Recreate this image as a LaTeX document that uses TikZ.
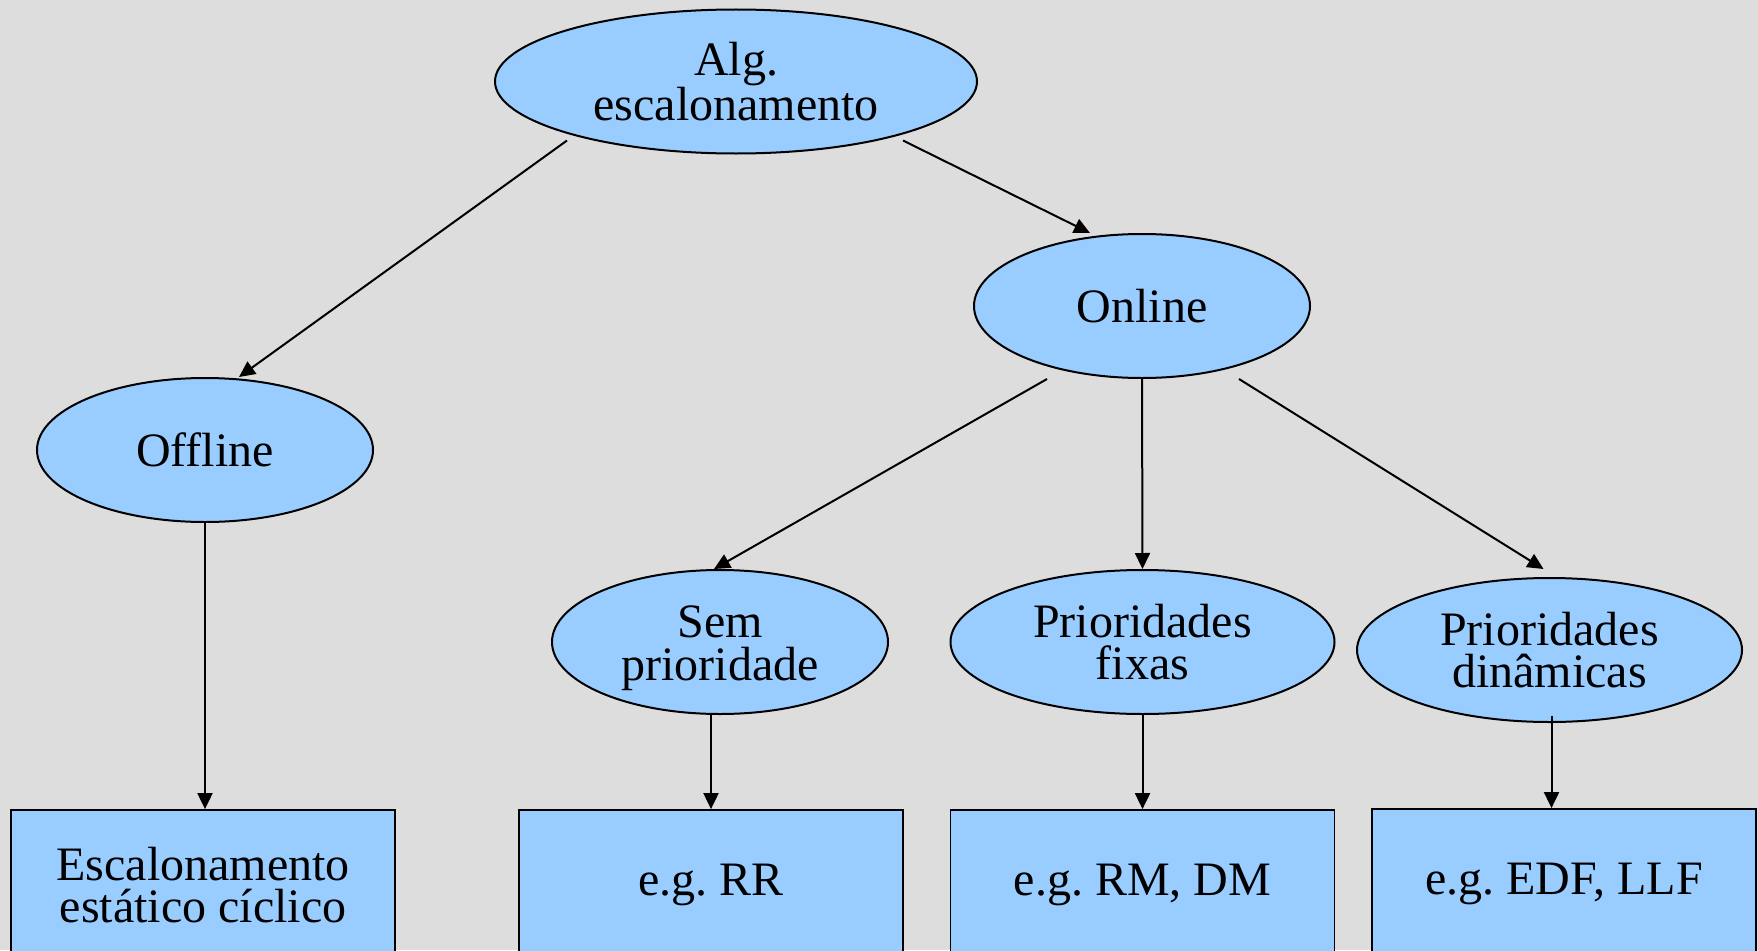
\documentclass[tikz,border=0pt]{standalone}
\usepackage{fontspec}
\setmainfont{Liberation Serif}
\usetikzlibrary{shapes.geometric,arrows.meta}
\definecolor{bgc}{HTML}{DDDDDD}
\definecolor{nodefill}{HTML}{99CCFF}
\frenchspacing
\begin{document}
\begin{tikzpicture}[x=1pt,y=-1pt,
  every node/.style={font=\fontsize{48}{42.5}\selectfont, align=center, inner sep=0pt},
  ell/.style={ellipse, draw=black, line width=2pt, fill=nodefill, minimum height=144pt},
  boxn/.style={rectangle, draw=black, line width=1.8pt, fill=nodefill, minimum width=384pt, minimum height=150pt},
  conn/.style={draw=black, line width=2pt, -{Triangle[length=16pt,width=15pt]}}
]
\fill[bgc] (0,0) rectangle (1758,950);
\useasboundingbox (0,0) rectangle (1758,950);
\clip (0,0) rectangle (1758,950);
\node[ell, minimum width=482pt] (top) at (736,81.5) {Alg.\\escalonamento};
\node[ell, minimum width=336pt] (online) at (1142,306) {Online};
\node[ell, minimum width=336pt] (offline) at (205,450) {Offline};
\node[ell, minimum width=336pt] (sem) at (720,642) {\rule{0pt}{44pt}Sem\\prioridade};
\node[ell, minimum width=384pt] (fixas) at (1142.5,642) {Prioridades\\fixas};
\node[ell, minimum width=385pt] (dinam) at (1549.5,650) {Prioridades\\dinâmicas};
\node[boxn] (b1) at (203,885) {Escalonamento\\estático cíclico};
\node[boxn] (b2) at (711,885) {e.g. RR};
\node[boxn] (b3) at (1142.5,885) {e.g. RM, DM};
\node[boxn] (b4) at (1564,884) {e.g. EDF, LLF};
\draw[conn] ([xshift=-169pt,yshift=14pt]top.south) -- ([xshift=34pt]offline.north);
\draw[conn] ([xshift=167pt,yshift=14pt]top.south) -- ([xshift=-52pt]online.north);
\draw[conn] ([xshift=-95pt]online.south) -- ([xshift=-6pt]sem.north);
\draw[conn] (online.south) -- (fixas.north);
\draw[conn] ([xshift=97pt]online.south) -- ([xshift=-6pt,yshift=8pt]dinam.north);
\draw[conn] (offline.south) -- (offline.south |- b1.north);
\draw[conn] (sem.south -| b2.north) -- (b2.north);
\draw[conn] (fixas.south) -- (b3.north);
\draw[conn] ([xshift=2pt,yshift=7pt]dinam.south) -- ([xshift=-12.5pt]b4.north);
\end{tikzpicture}
\end{document}
